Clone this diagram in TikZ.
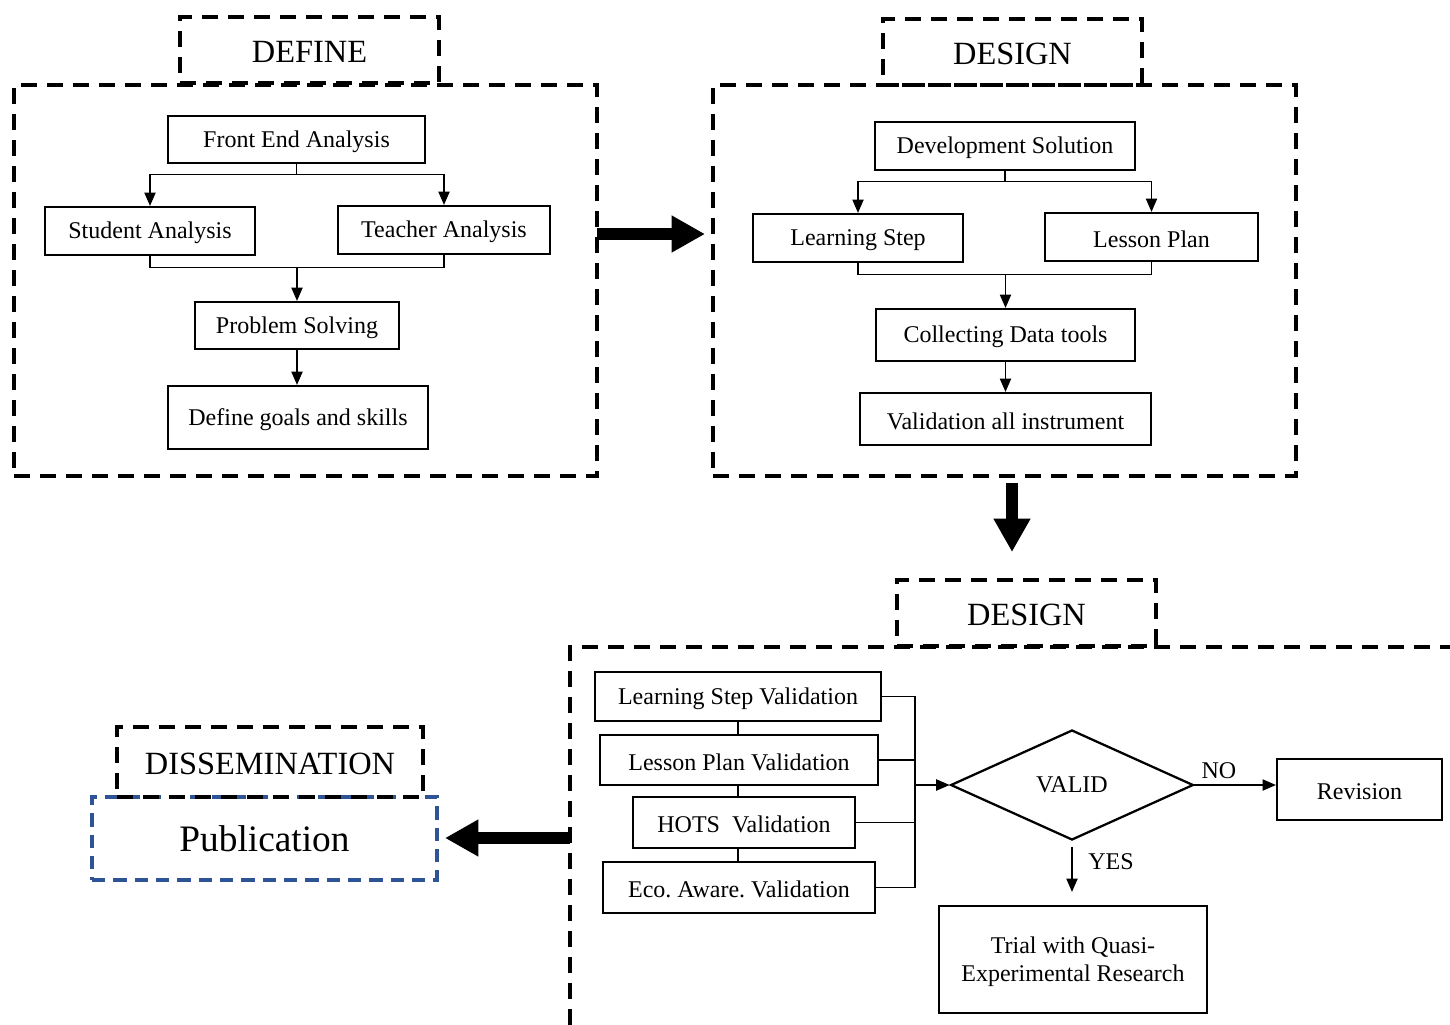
\documentclass[tikz,border=0pt]{standalone}
\usepackage{fontspec}
\setmainfont{Liberation Serif}
\usetikzlibrary{arrows.meta,fit,shapes.geometric,calc}
\definecolor{pubblue}{RGB}{47,84,150}
\begin{document}
\begin{tikzpicture}[x=0.75pt,y=-0.75pt,
  txt/.style={font=\fontsize{18}{21}\selectfont, align=center, inner sep=0pt, yshift=-1.5pt},
  box/.style={draw, line width=1.7pt, inner sep=0pt, label={[txt]center:#1}},
  dashbox/.style={draw, line width=2.6pt, dash pattern=on 12pt off 7.5pt, inner sep=0pt},
  tabbox/.style={dashbox, label={[font=\fontsize{24.3}{28}\selectfont, inner sep=0pt, yshift=-1.5pt]center:#1}},
  conn/.style={line width=0.8pt},
  arr/.style={conn, -{Triangle[length=10pt,width=8.5pt]}},
  bigarr/.style={line width=9pt, -{Triangle[length=25pt,width=26pt]}},
  lab/.style={font=\fontsize{18}{21}\selectfont}
]
\useasboundingbox (0,0) rectangle (1450,1025);

% ---------------- DEFINE panel ----------------
\node[dashbox, fit={(14,85) (597,476)}] (p1) {};
\node[tabbox=DEFINE, fit={(180,17) (439,83)}] (t1) {};
\node[box=Front End Analysis, fit={(168,116) (425,163)}] (fea) {};
\node[box=Student Analysis, fit={(45,207) (255,255)}] (stu) {};
\node[box=Teacher Analysis, fit={(338,206) (550,254)}] (tea) {};
\node[box=Problem Solving, fit={(195,302) (399,349)}] (ps) {};
\node[box=Define goals and skills, fit={(168,386) (428,449)}] (dgs) {};

\draw[conn] (fea.south) -- ++(0,10) coordinate (fs);
\draw[arr] (fs) -| (stu.north);
\draw[arr] (fs) -| (tea.north);
\draw[conn] (stu.south) -- ++(0,11) coordinate (fm) -| (tea.south);
\draw[arr] (fm -| ps.north) -- (ps.north);
\draw[arr] (ps.south) -- (ps.south |- dgs.north);

% ---------------- DESIGN panel (top) ----------------
\node[dashbox, fit={(713,85) (1296,476)}] (p2) {};
\node[tabbox=DESIGN, fit={(883,19) (1142,85)}] (t2) {};
\node[box=Development Solution, fit={(875,122) (1135,170)}] (dev) {};
\node[box=Learning Step, fit={(753,214) (963,262)}] (ls) {};
\node[box=Lesson Plan, fit={(1045,213) (1258,261)}] (lp) {};
\node[box=Collecting Data tools, fit={(876,309) (1135,361)}] (cdt) {};
\node[box=Validation all instrument, fit={(860,393) (1151,445)}] (vai) {};

\draw[conn] (dev.south) -- ++(0,10) coordinate (ds);
\draw[arr] (ds) -| (ls.north);
\draw[arr] (ds) -| (lp.north);
\draw[conn] (ls.south) -- ++(0,11) coordinate (dm) -| (lp.south);
\draw[arr] (dm -| cdt.north) -- (cdt.north);
\draw[arr] (cdt.south) -- (cdt.south |- vai.north);

% big arrows
\coordinate (a1s) at (597,234);
\coordinate (a1e) at (705,234);
\draw[bigarr] (a1s) -- (a1e);
\coordinate (a2s) at (1012,483);
\coordinate (a2e) at (1012,552);
\draw[bigarr] (a2s) -- (a2e);

% ---------------- DESIGN panel (bottom) ----------------
\coordinate (b3bl) at (570,1025);
\coordinate (b3tl) at (570,647);
\coordinate (b3tr) at (1450,647);
\draw[dashbox] (b3bl) -- (b3tl) -- (b3tr);
\node[tabbox=DESIGN, fit={(897,580) (1156,646)}] (t3) {};

\node[box=Learning Step Validation, fit={(595,672) (881,721)}] (lsv) {};
\node[box=Lesson Plan Validation, fit={(600,735) (878,785)}] (lpv) {};
\node[box={HOTS~~Validation}, fit={(633,797) (855,848)}] (hots) {};
\node[box={Eco.\ Aware.\ Validation}, fit={(603,862) (875,913)}] (eco) {};

\draw[conn] (lsv.south) -- (lsv.south |- lpv.north);
\draw[conn] (lsv.south |- lpv.south) -- (lsv.south |- hots.north);
\draw[conn] (lsv.south |- hots.south) -- (lsv.south |- eco.north);

\coordinate (bus) at (915,785);
\draw[conn] (lsv.east) -- (lsv.east -| bus) -- (eco.east -| bus) -- (eco.east);
\draw[conn] (lpv.east) -- (lpv.east -| bus);
\draw[conn] (hots.east) -- (hots.east -| bus);

\node[draw, diamond, line width=1.7pt, inner sep=0pt, minimum width=182pt, minimum height=82.5pt, lab] (valid) at (1072,785) {VALID};
\draw[arr] (bus |- valid.west) -- (valid.west);

\node[box=Revision, fit={(1277,759) (1442,820)}] (rev) {};
\draw[arr] (valid.east) -- (valid.east -| rev.west) node[pos=0.3, above=1pt, lab] {NO};

\node[box={Trial with Quasi-\\Experimental Research}, fit={(939,906) (1207,1013)}] (trial) {};
\draw[arr, shorten <=4.5pt, shorten >=9.75pt] (valid.south) -- (valid.south |- trial.north);
\node[lab] (yes) at (1111,862) {YES};

% ---------------- DISSEMINATION ----------------
\node[draw=pubblue, line width=3pt, dash pattern=on 10pt off 6pt, inner sep=0pt, fit={(92,797) (437,880)}, label={[font=\fontsize{28}{32}\selectfont, inner sep=0pt]center:Publication}] (pub) {};
\node[tabbox=DISSEMINATION, fit={(117,727) (423,797)}] (t4) {};

\coordinate (a3s) at (570,838);
\coordinate (a3e) at (445,838);
\draw[bigarr] (a3s) -- (a3e);
\end{tikzpicture}
\end{document}
